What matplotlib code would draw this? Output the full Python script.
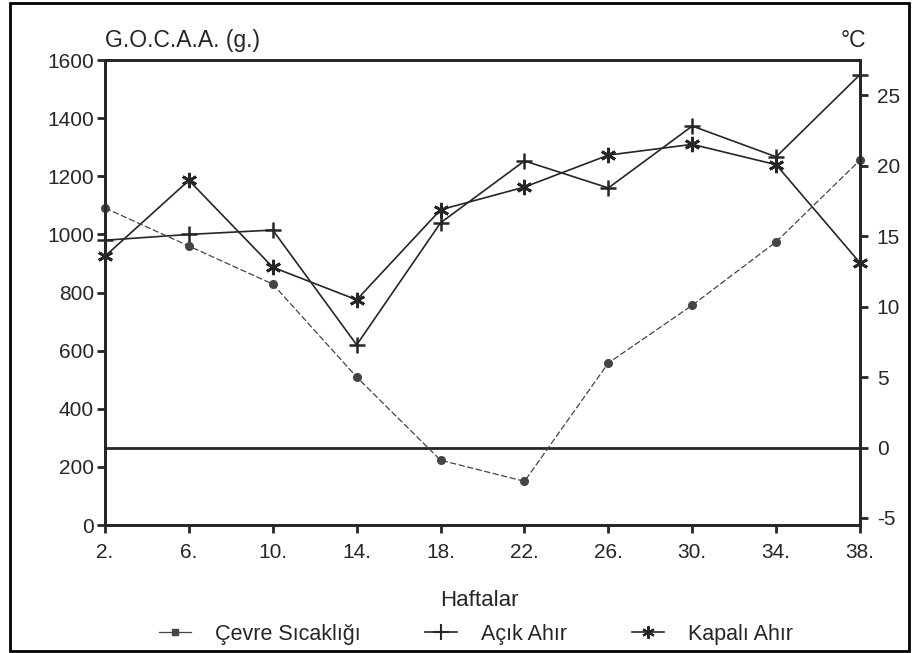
import matplotlib
matplotlib.use("Agg")
import matplotlib.pyplot as plt
from matplotlib.lines import Line2D
from matplotlib.patches import Rectangle

plt.rcParams['font.family'] = ['Liberation Sans', 'DejaVu Sans']

# Data
weeks = [2, 6, 10, 14, 18, 22, 26, 30, 34, 38]
week_labels = ['2.', '6.', '10.', '14.', '18.', '22.', '26.', '30.', '34.', '38.']
cevre = [17.0, 14.3, 11.6, 5.0, -0.9, -2.4, 6.0, 10.1, 14.6, 20.4]      # °C
acik = [980, 1000, 1015, 620, 1040, 1253, 1160, 1373, 1267, 1550]       # g
kapali = [925, 1186, 887, 775, 1085, 1163, 1273, 1310, 1240, 902]       # g

left_ticks = [0, 200, 400, 600, 800, 1000, 1200, 1400, 1600]
right_ticks = [-5, 0, 5, 10, 15, 20, 25]

ink = '#262626'

fig = plt.figure(figsize=(9.13, 6.53), dpi=100)
ax = fig.add_axes([0.115, 0.196, 0.827, 0.712])
ax2 = ax.twinx()

# growth lines on left axis
asterisk = (6, 2, 0)
ax.plot(weeks, acik, color=ink, lw=1.2, marker='+', ms=12, mew=1.8, clip_on=False)
ax.plot(weeks, kapali, color=ink, lw=1.2, marker=asterisk, ms=11, mew=2, clip_on=False)

# temperature on right axis
ax2.axhline(0, color=ink, lw=2)
ax2.plot(weeks, cevre, color='#444444', lw=0.9, ls=(0, (5, 2)),
         marker='o', ms=5.5, mfc='#444444', mec='#444444', clip_on=False)

ax.set_xlim(2, 38)
ax.set_ylim(0, 1600)
ax2.set_ylim(-5.5, 27.5)

ax.set_xticks(weeks)
ax.set_xticklabels(week_labels)
ax.set_yticks(left_ticks)
ax2.set_yticks(right_ticks)
ax2.set_yticklabels([str(v) for v in right_ticks])

for a in (ax, ax2):
    for s in a.spines.values():
        s.set_linewidth(2)
        s.set_color(ink)
    a.tick_params(direction='out', length=6, width=2, color=ink,
                  labelsize=15, labelcolor=ink)
ax.tick_params(axis='x', pad=7)
ax.tick_params(axis='y', pad=2)
ax2.tick_params(axis='y', pad=6)

ax.text(0.0, 1.017, 'G.O.C.A.A. (g.)', transform=ax.transAxes,
        ha='left', va='bottom', fontsize=16.5, color=ink)
ax.text(0.991, 1.017, '°C', transform=ax.transAxes,
        ha='center', va='bottom', fontsize=16.5, color=ink)
fig.text(0.525, 0.081, 'Haftalar', ha='center', va='center', fontsize=16, color=ink)

handles = [
    Line2D([], [], color='#444444', lw=0.9, marker='s', ms=5),
    Line2D([], [], color=ink, lw=1.2, marker='+', ms=11, mew=1.5),
    Line2D([], [], color=ink, lw=1.2, marker=asterisk, ms=9, mew=1.5),
]
labels = ['Çevre Sıcaklığı', 'Açık Ahır', 'Kapalı Ahır']
fig.legend(handles, labels, loc='center', bbox_to_anchor=(0.521, 0.029), ncol=3,
           frameon=False, fontsize=15.5, handlelength=1.5, columnspacing=3.0,
           handletextpad=1.1, labelcolor=ink)

# outer frame of the scanned figure
fig.patches.append(Rectangle((0.011, 0.003), 0.985, 0.993, transform=fig.transFigure,
                             fill=False, lw=2, edgecolor='black'))

fig.savefig('out.png', dpi=100)
